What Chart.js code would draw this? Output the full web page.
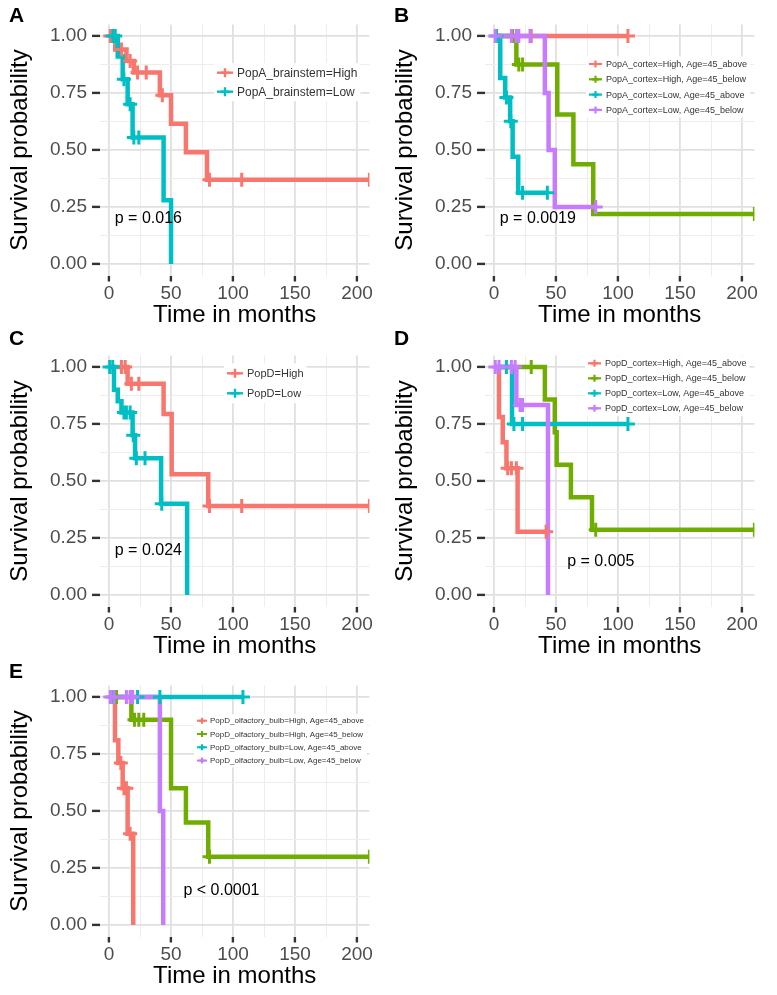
<!DOCTYPE html>
<html>
<head>
<meta charset="utf-8">
<script src="https://cdn.jsdelivr.net/npm/chart.js@4.4.1/dist/chart.umd.min.js"></script>
<style>
    body { margin: 0; background: #fff; width: 777px; height: 995px; position: relative; overflow: hidden; }
    canvas { position: absolute; }
    .tag { position: absolute; font: bold 21px "Liberation Sans", Arial, sans-serif; line-height: 21px; color: #000; }
</style>
</head>
<body>
<canvas id="chartA" width="385" height="330" style="left:0;top:0"></canvas>
<canvas id="chartB" width="392" height="330" style="left:385px;top:0"></canvas>
<canvas id="chartC" width="385" height="330" style="left:0;top:331px"></canvas>
<canvas id="chartD" width="392" height="330" style="left:385px;top:331px"></canvas>
<canvas id="chartE" width="385" height="330" style="left:0;top:661px"></canvas>
<div class="tag" style="left:9px;top:4px">A</div>
<div class="tag" style="left:394px;top:4px">B</div>
<div class="tag" style="left:9px;top:327px">C</div>
<div class="tag" style="left:394px;top:327px">D</div>
<div class="tag" style="left:9px;top:660px">E</div>
<script>
// tick values / labels
const xMajor = [0, 50, 100, 150, 200];
const xMinor = [25, 75, 125, 175];
const xTickLabels = ["0", "50", "100", "150", "200"];
const yMajor = [0, 0.25, 0.5, 0.75, 1];
const yMinor = [0.125, 0.375, 0.625, 0.875];
const yTickLabels = ["0.00", "0.25", "0.50", "0.75", "1.00"];

// A: PopA brainstem
const aLabels = ["PopA_brainstem=High", "PopA_brainstem=Low"];
const aHighTime = [5, 14, 20, 41, 50, 62, 79];
const aHighSurv = [0.94, 0.89, 0.84, 0.74, 0.615, 0.49, 0.37];
const aHighCens = [1, 10, 17, 23, 30, 43, 81, 107, 210];
const aLowTime = [7, 11, 15, 19, 44, 50];
const aLowSurv = [0.91, 0.81, 0.70, 0.555, 0.28, 0];
const aLowCens = [3, 5, 12, 17, 20, 24];

// B: PopA cortex x age
const bLabels = ["PopA_cortex=High, Age=45_above", "PopA_cortex=High, Age=45_below",
    "PopA_cortex=Low, Age=45_above", "PopA_cortex=Low, Age=45_below"];
const bHighAboveTime = [];
const bHighAboveSurv = [];
const bHighAboveCens = [30, 108];
const bHighBelowTime = [18, 51, 64, 80];
const bHighBelowSurv = [0.875, 0.656, 0.4375, 0.219];
const bHighBelowCens = [15, 20, 23, 210];
const bLowAboveTime = [5, 9, 13, 15, 19.5];
const bLowAboveSurv = [0.815, 0.73, 0.626, 0.47, 0.313];
const bLowAboveCens = [2, 10, 13.5, 23, 43];
const bLowBelowTime = [41, 44, 49];
const bLowBelowSurv = [0.75, 0.5, 0.25];
const bLowBelowCens = [1, 14, 18, 20, 29, 82];

// C: PopD
const cLabels = ["PopD=High", "PopD=Low"];
const cHighTime = [15, 44, 50.5, 80];
const cHighSurv = [0.926, 0.794, 0.53, 0.39];
const cHighCens = [10, 13, 18, 24, 81, 107, 210];
const cLowTime = [4, 7, 10, 19, 21, 42, 63];
const cLowSurv = [0.90, 0.85, 0.80, 0.70, 0.60, 0.40, 0];
const cLowCens = [0.5, 3, 12, 14, 17, 19.5, 22, 29, 42.5];

// D: PopD cortex x age
const dLabels = ["PopD_cortex=High, Age=45_above", "PopD_cortex=High, Age=45_below",
    "PopD_cortex=Low, Age=45_above", "PopD_cortex=Low, Age=45_below"];
const dHighAboveTime = [4, 7, 10, 19];
const dHighAboveSurv = [0.78, 0.67, 0.556, 0.278];
const dHighAboveCens = [11, 14, 18, 42];
const dHighBelowTime = [41, 49, 50.5, 62, 79];
const dHighBelowSurv = [0.857, 0.714, 0.571, 0.429, 0.286];
const dHighBelowCens = [30, 82, 210];
const dLowAboveTime = [14.5];
const dLowAboveSurv = [0.75];
const dLowAboveCens = [10, 16, 23, 108];
const dLowBelowTime = [18, 43.5];
const dLowBelowSurv = [0.833, 0];
const dLowBelowCens = [1, 4, 14, 17, 21, 23];

// E: PopD olfactory bulb x age
const eLabels = ["PopD_olfactory_bulb=High, Age=45_above", "PopD_olfactory_bulb=High, Age=45_below",
    "PopD_olfactory_bulb=Low, Age=45_above", "PopD_olfactory_bulb=Low, Age=45_below"];
const eHighAboveTime = [4.8, 7.5, 11, 15, 19.5];
const eHighAboveSurv = [0.81, 0.71, 0.60, 0.40, 0];
const eHighAboveCens = [9.5, 12, 14, 17];
const eHighBelowTime = [18, 50, 62, 80];
const eHighBelowSurv = [0.90, 0.60, 0.45, 0.30];
const eHighBelowCens = [6, 20.5, 24, 28, 81, 210];
const eLowAboveTime = [];
const eLowAboveSurv = [];
const eLowAboveCens = [3, 23, 41, 108];
const eLowBelowTime = [41, 43.7];
const eLowBelowSurv = [0.5, 0];
const eLowBelowCens = [1, 4, 14, 17, 19];

const pTexts = ["p = 0.016", "p = 0.0019", "p = 0.024", "p = 0.005", "p < 0.0001"];

const FONT = '"Liberation Sans", Arial, Helvetica, sans-serif';
const colors2 = ["#F8766D", "#00BFC4"];
const colors4 = ["#F8766D", "#6FAE00", "#00BFC4", "#C77CFF"];

Chart.defaults.font.family = FONT;

function survAt(curve, t) {
    let s = 1;
    for (let i = 0; i < curve.time.length; i++) {
        if (curve.time[i] <= t) s = curve.surv[i];
    }
    return s;
}

function drawCross(ctx, x, y, r) {
    ctx.beginPath();
    ctx.moveTo(x - r, y); ctx.lineTo(x + r, y);
    ctx.moveTo(x, y - r); ctx.lineTo(x, y + r);
    ctx.stroke();
}

const overlay = {
    id: "overlay",
    afterDatasetsDraw: function (chart, args, opts) {
        const ctx = chart.ctx;
        const xs = chart.scales.x, ys = chart.scales.y;
        ctx.save();
        ctx.font = "16px " + FONT;
        ctx.fillStyle = "#000";
        ctx.textAlign = "left";
        ctx.textBaseline = "middle";
        ctx.fillText(opts.pText, xs.getPixelForValue(opts.pAt[0]), ys.getPixelForValue(opts.pAt[1]));

        const lg = opts.legend;
        const n = opts.labels.length;
        ctx.font = lg.size + "px " + FONT;
        let wmax = 0;
        opts.labels.forEach(function (l) { wmax = Math.max(wmax, ctx.measureText(l).width); });
        ctx.fillStyle = "#fff";
        ctx.fillRect(lg.keyX - 3, lg.y0 - lg.step / 2, lg.textX - lg.keyX + wmax + 6, lg.step * n);
        opts.labels.forEach(function (label, i) {
            const y = lg.y0 + i * lg.step;
            ctx.strokeStyle = opts.colors[i];
            ctx.lineWidth = lg.lw;
            ctx.beginPath();
            ctx.moveTo(lg.keyX, y); ctx.lineTo(lg.keyX + lg.keyW, y);
            ctx.stroke();
            drawCross(ctx, lg.keyX + lg.keyW / 2, y, lg.cross);
            ctx.fillStyle = "#333";
            ctx.fillText(label, lg.textX, y + 0.5);
        });
        ctx.restore();
    }
};

function buildPanel(canvasId, cfg) {
    const datasets = [];
    cfg.curves.forEach(function (curve, g) {
        const lastT = curve.time.length ? curve.time[curve.time.length - 1] : 0;
        const lastC = curve.cens.length ? curve.cens[curve.cens.length - 1] : 0;
        const end = Math.max(lastT, lastC);
        const pts = [{ x: 0, y: 1 }];
        curve.time.forEach(function (t, i) { pts.push({ x: t, y: curve.surv[i] }); });
        pts.push({ x: end, y: survAt(curve, end) });
        datasets.push({
            type: "line",
            label: cfg.labels[g],
            data: pts,
            stepped: true,
            borderColor: cfg.colors[g],
            borderWidth: 4.5,
            pointRadius: 0,
            fill: false,
            clip: 0,
            order: 10 - g
        });
    });
    cfg.curves.forEach(function (curve, g) {
        datasets.push({
            type: "scatter",
            label: "",
            data: curve.cens.map(function (t) { return { x: t, y: survAt(curve, t) }; }),
            pointStyle: "cross",
            pointRadius: 7,
            pointBorderWidth: 3,
            borderColor: cfg.colors[g],
            backgroundColor: cfg.colors[g],
            clip: 0,
            order: -g
        });
    });

    const canvas = document.getElementById(canvasId);
    const isMajorX = function (v) { return xMajor.indexOf(v) >= 0; };
    const isMajorY = function (v) { return yMajor.indexOf(v) >= 0; };

    return new Chart(canvas.getContext("2d"), {
        type: "line",
        data: { datasets: datasets },
        plugins: [overlay],
        options: {
            responsive: false,
            animation: false,
            layout: { padding: { top: 24.5, right: canvas.width - 369.4, left: 0, bottom: 0 } },
            plugins: {
                legend: { display: false },
                tooltip: { enabled: false },
                overlay: { pText: cfg.pText, pAt: cfg.pAt, labels: cfg.labels, colors: cfg.colors, legend: cfg.legend }
            },
            scales: {
                x: {
                    type: "linear",
                    min: -7.3,
                    max: 210,
                    afterBuildTicks: function (s) {
                        s.ticks = xMajor.concat(xMinor).sort(function (a, b) { return a - b; })
                            .map(function (v) { return { value: v }; });
                    },
                    afterFit: function (s) { s.height = 54.5; },
                    border: { display: false },
                    grid: {
                        color: function (c) { return c.tick && isMajorX(c.tick.value) ? "#e0e0e0" : "#ededed"; },
                        lineWidth: function (c) { return c.tick && isMajorX(c.tick.value) ? 1.8 : 1; },
                        tickLength: 6,
                        tickWidth: 2.4,
                        tickColor: function (c) { return c.tick && isMajorX(c.tick.value) ? "#333" : "rgba(0,0,0,0)"; }
                    },
                    ticks: {
                        autoSkip: false,
                        maxRotation: 0,
                        padding: 1,
                        color: "#4d4d4d",
                        font: { size: 19 },
                        callback: function (v) {
                            const i = xMajor.indexOf(v);
                            return i >= 0 ? xTickLabels[i] : "";
                        }
                    },
                    title: { display: true, text: "Time in months", color: "#000", font: { size: 24 }, padding: { top: 0, bottom: 0 } }
                },
                y: {
                    type: "linear",
                    min: -0.05,
                    max: 1.05,
                    afterBuildTicks: function (s) {
                        s.ticks = yMajor.concat(yMinor).sort(function (a, b) { return a - b; })
                            .map(function (v) { return { value: v }; });
                    },
                    afterFit: function (s) { s.width = 100; },
                    border: { display: false },
                    grid: {
                        color: function (c) { return c.tick && isMajorY(c.tick.value) ? "#e0e0e0" : "#ededed"; },
                        lineWidth: function (c) { return c.tick && isMajorY(c.tick.value) ? 1.8 : 1; },
                        tickLength: 8,
                        tickWidth: 2.4,
                        tickColor: function (c) { return c.tick && isMajorY(c.tick.value) ? "#333" : "rgba(0,0,0,0)"; }
                    },
                    ticks: {
                        autoSkip: false,
                        padding: 5,
                        color: "#4d4d4d",
                        font: { size: 19 },
                        callback: function (v) {
                            const i = yMajor.indexOf(v);
                            return i >= 0 ? yTickLabels[i] : "";
                        }
                    },
                    title: { display: true, text: "Survival probability", color: "#000", font: { size: 24 }, padding: { top: 6, bottom: 0 } }
                }
            }
        }
    });
}

function curve(time, surv, cens) { return { time: time, surv: surv, cens: cens }; }

buildPanel("chartA", {
    labels: aLabels, colors: colors2, pText: pTexts[0], pAt: [4.6, 0.2],
    curves: [curve(aHighTime, aHighSurv, aHighCens), curve(aLowTime, aLowSurv, aLowCens)],
    legend: { keyX: 217, keyW: 16, textX: 237, y0: 72.7, step: 19, size: 12, lw: 2.4, cross: 4.5 }
});
buildPanel("chartB", {
    labels: bLabels, colors: colors4, pText: pTexts[1], pAt: [4.6, 0.2],
    curves: [curve(bHighAboveTime, bHighAboveSurv, bHighAboveCens), curve(bHighBelowTime, bHighBelowSurv, bHighBelowCens),
        curve(bLowAboveTime, bLowAboveSurv, bLowAboveCens), curve(bLowBelowTime, bLowBelowSurv, bLowBelowCens)],
    legend: { keyX: 204, keyW: 13, textX: 221, y0: 64, step: 15.3, size: 9, lw: 2.2, cross: 3.5 }
});
buildPanel("chartC", {
    labels: cLabels, colors: colors2, pText: pTexts[2], pAt: [4.6, 0.195],
    curves: [curve(cHighTime, cHighSurv, cHighCens), curve(cLowTime, cLowSurv, cLowCens)],
    legend: { keyX: 227, keyW: 16, textX: 247, y0: 42.3, step: 20, size: 11, lw: 2.4, cross: 4.5 }
});
buildPanel("chartD", {
    labels: dLabels, colors: colors4, pText: pTexts[3], pAt: [59, 0.145],
    curves: [curve(dHighAboveTime, dHighAboveSurv, dHighAboveCens), curve(dHighBelowTime, dHighBelowSurv, dHighBelowCens),
        curve(dLowAboveTime, dLowAboveSurv, dLowAboveCens), curve(dLowBelowTime, dLowBelowSurv, dLowBelowCens)],
    legend: { keyX: 203, keyW: 13, textX: 220, y0: 32.3, step: 15, size: 9, lw: 2.2, cross: 3.5 }
});
buildPanel("chartE", {
    labels: eLabels, colors: colors4, pText: pTexts[4], pAt: [60, 0.15],
    curves: [curve(eHighAboveTime, eHighAboveSurv, eHighAboveCens), curve(eHighBelowTime, eHighBelowSurv, eHighBelowCens),
        curve(eLowAboveTime, eLowAboveSurv, eLowAboveCens), curve(eLowBelowTime, eLowBelowSurv, eLowBelowCens)],
    legend: { keyX: 197, keyW: 10, textX: 210, y0: 59.7, step: 13.3, size: 8, lw: 2, cross: 3 }
});
</script>
</body>
</html>
